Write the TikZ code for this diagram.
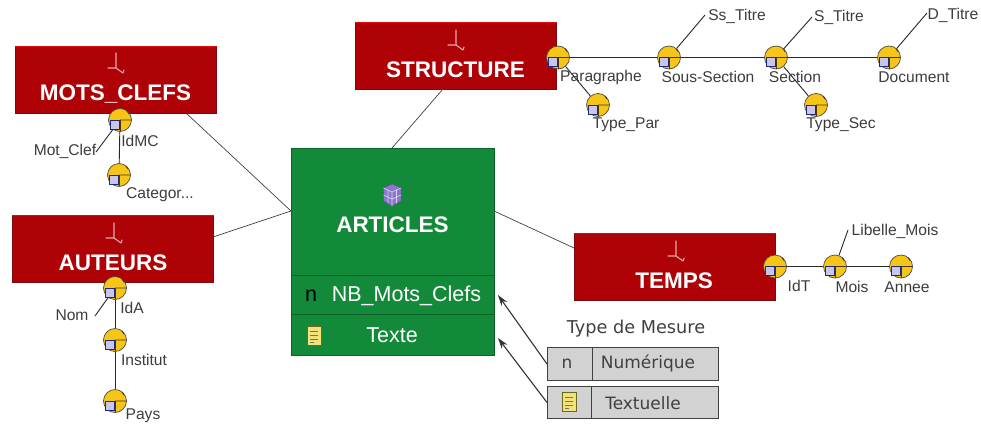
\documentclass[tikz,border=0pt]{standalone}
\usepackage{fontspec}
\setmainfont{Liberation Sans}
\newfontfamily\legendfont{DejaVu Sans}
\usetikzlibrary{arrows.meta}
\definecolor{dimred}{HTML}{AE0207}
\definecolor{dimedge}{HTML}{7A0A0E}
\definecolor{dimtop}{HTML}{DC0A10}
\definecolor{factgreen}{HTML}{138A3A}
\definecolor{factedge}{HTML}{0B6128}
\definecolor{lvlyellow}{HTML}{F5C518}
\definecolor{lvlsquare}{HTML}{C9C6EC}
\definecolor{lvledge}{HTML}{1E2A78}
\definecolor{lbl}{HTML}{3C3C3C}
\definecolor{legendgrey}{HTML}{D2D2D2}
\definecolor{notefill}{HTML}{F3E27A}
\definecolor{hier}{HTML}{E4A8A8}
\definecolor{cube}{HTML}{8A78CC}
\definecolor{cubeline}{HTML}{D8D2F2}
\pgfdeclarelayer{top}
\pgfsetlayers{main,top}
\tikzset{
  x=1pt,y=-1pt,
  dimbox/.style={draw=dimedge,line width=1pt,fill=dimred,minimum width=201pt,minimum height=67pt,inner sep=0pt,anchor=north west},
  facttitle/.style={text=white,font=\fontsize{22.5}{24}\selectfont\bfseries,inner sep=0pt},
  lvl/.style={circle,draw=black!80!yellow,line width=.7pt,fill=lvlyellow,minimum size=23pt,inner sep=0pt},
  lab/.style={text=lbl,font=\fontsize{15.6}{17}\selectfont,inner sep=0pt},
  link/.style={draw=black!75,line width=.7pt},
  attr/.style={draw=black!85,line width=.9pt},
  meas/.style={text=white,font=\fontsize{21.5}{23}\selectfont,inner sep=0pt},
  legbox/.style={draw=black!75,line width=1pt,fill=legendgrey},
  legtxt/.style={font=\legendfont\fontsize{17}{19}\selectfont,text=black!75,inner sep=0pt},
  arr/.style={draw=black!80,line width=1.1pt,-{Stealth[length=11pt,width=7pt]}},
}
\newcommand{\lvlicon}[3]{% name, x, y
  \begin{pgfonlayer}{top}
  \node[lvl] (#1) at (#2,#3) {};
  \draw[black!60!brown,line width=.9pt] (#2,#3) -- (#2+11,#3) (#2+7,#3-9) -- (#2+9,#3-6);
  \draw[black!60!brown,line width=.9pt] (#2,#3) -- (#2,#3+11);
  \draw[draw=lvledge,line width=1pt,fill=lvlsquare] (#2-10,#3) rectangle (#2-1,#3+9);
  \end{pgfonlayer}
}
\newcommand{\hiericon}[3]{% x, y, colour
  \draw[#3,line width=1.1pt,line cap=round,line join=round] (#1,#2-9) -- (#1,#2+6) -- (#1-8,#2+6)
    (#1,#2+6) -- (#1+7,#2+11) -- (#1+8,#2+8);
}
\newcommand{\noteicon}[2]{% x, y
  \draw[draw=olive!70!black,line width=.6pt,fill=notefill] (#1-7,#2-9.5) rectangle (#1+7,#2+9.5);
  \draw[black!55,line width=.8pt] (#1-4,#2-5) -- (#1+4,#2-5) (#1-4,#2-1) -- (#1+4,#2-1) (#1-4,#2+3) -- (#1+4,#2+3) (#1-4,#2+6) -- (#1,#2+6);
}
\begin{document}
\begin{tikzpicture}
\useasboundingbox (0,0) rectangle (981,423);
\node[draw=factedge,line width=.8pt,fill=factgreen,minimum width=203pt,minimum height=207pt,inner sep=0pt,anchor=north west] (articles) at (291,148) {};
\node[dimbox] (mots) at (15,46) {};
\node[dimbox] (auteurs) at (12,215) {};
\node[dimbox] (structure) at (355,22) {};
\node[dimbox] (temps) at (574,233) {};
\draw[dimtop,line width=1pt] (mots.north west) -- (mots.north east) (auteurs.north west) -- (auteurs.north east) (structure.north west) -- (structure.north east) (temps.north west) -- (temps.north east);
\coordinate (artL) at (291,211);
\coordinate (artR) at (494,211);
\coordinate (artT) at (392,148);
\coordinate (motsB) at (186,113);
\coordinate (autR) at (213,237);
\coordinate (strB) at (443,89);
\coordinate (tmpL) at (574,248);
\draw[link] (motsB) -- (artL);
\draw[link] (autR) -- (artL);
\draw[link] (strB) -- (artT);
\draw[link] (artR) -- (tmpL);
% captions
\node[facttitle] (tmots) at (115.5,94) {MOTS\_CLEFS};
\node[facttitle] (taut) at (113,263) {AUTEURS};
\node[facttitle] (tstr) at (455.5,70) {STRUCTURE};
\node[facttitle] (ttmp) at (674,281) {TEMPS};
\node[facttitle] (tart) at (392.5,225) {ARTICLES};
\hiericon{116}{62}{hier}
\hiericon{114}{232}{hier}
\hiericon{456}{39}{hier}
\hiericon{676}{250}{hier}
% fact: dividers, measures, cube
\draw[factedge,line width=1pt] (291,275) -- (494,275) (291,314) -- (494,314);
\node[meas,text=black] (mn) at (311,296) {n};
\node[meas] (m1) at (406.5,296) {NB\_Mots\_Clefs};
\node[meas] (m2) at (392,335) {Texte};
\noteicon{314}{336}
\draw[draw=cube!70!black,line width=.5pt,fill=cube] (383.5,188) -- (392,184) -- (401,188) -- (401,201) -- (392,206) -- (383.5,201) -- cycle;
\draw[cubeline,line width=.6pt] (383.5,188) -- (392,192) -- (401,188) (392,192) -- (392,206) (383.5,195) -- (392,199) -- (401,195) (388,190) -- (388,203) (396.5,190) -- (396.5,203);
% levels
\coordinate (cMotClef) at (96,152);
\coordinate (cNom) at (95,316);
\coordinate (cSsT) at (705,15);
\coordinate (cST) at (812,17);
\coordinate (cDT) at (927,13);
\coordinate (cLib) at (848,230);
\lvlicon{idmc}{120}{120}
\lvlicon{cat}{119}{175}
\lvlicon{ida}{115}{288}
\lvlicon{inst}{115}{340}
\lvlicon{pays}{115}{401}
\lvlicon{para}{558}{57.5}
\lvlicon{typar}{598}{105}
\lvlicon{ssec}{669}{57.5}
\lvlicon{sec}{776}{57.5}
\lvlicon{doc}{889}{57.5}
\lvlicon{tysec}{816}{105}
\lvlicon{idt}{775}{266.5}
\lvlicon{mois}{835}{266.5}
\lvlicon{annee}{901}{266.5}
\draw[attr] (idmc) -- (cat);
\draw[attr] (idmc) -- (cMotClef);
\draw[attr] (ida) -- (inst);
\draw[attr] (inst) -- (pays);
\draw[attr] (ida) -- (cNom);
\draw[attr] (para) -- (ssec);
\draw[attr] (ssec) -- (sec);
\draw[attr] (sec) -- (doc);
\draw[attr] (para) -- (typar);
\draw[attr] (sec) -- (tysec);
\draw[attr] (ssec) -- (cSsT);
\draw[attr] (sec) -- (cST);
\draw[attr] (doc) -- (cDT);
\draw[attr] (idt) -- (mois);
\draw[attr] (mois) -- (annee);
\draw[attr] (mois) -- (cLib);
% level labels
\node[lab] (l1) at (140,141) {IdMC};
\node[lab] (l2) at (65,151) {Mot\_Clef};
\node[lab] (l3) at (160,195) {Categor...};
\node[lab] (l4) at (132,308) {IdA};
\node[lab] (l5) at (72,315) {Nom};
\node[lab] (l6) at (144,360) {Institut};
\node[lab] (l7) at (143,416) {Pays};
\node[lab] (l8) at (601,77) {Paragraphe};
\node[lab] (l9) at (626,125) {Type\_Par};
\node[lab] (l10) at (708,77) {Sous-Section};
\node[lab] (l11) at (795,77) {Section};
\node[lab] (l12) at (914,77) {Document};
\node[lab] (l13) at (841,125) {Type\_Sec};
\node[lab] (l14) at (737,16) {Ss\_Titre};
\node[lab] (l15) at (839,17) {S\_Titre};
\node[lab] (l16) at (953,15) {D\_Titre};
\node[lab] (l17) at (799,286) {IdT};
\node[lab] (l18) at (852,287) {Mois};
\node[lab] (l19) at (907,287) {Annee};
\node[lab] (l20) at (895,231) {Libelle\_Mois};
% legend
\node[legtxt,font=\legendfont\fontsize{17.7}{19}\selectfont] (legt) at (636,329) {Type de Mesure};
\node[legbox,minimum width=171pt,minimum height=33pt,inner sep=0pt,anchor=north west] (leg1) at (547,347) {};
\node[legbox,minimum width=171pt,minimum height=32pt,inner sep=0pt,anchor=north west] (leg2) at (547,386) {};
\draw[black!75,line width=1pt] (592,347) -- (592,380) (591,386) -- (591,418);
\node[legtxt] (legn) at (567,364) {n};
\node[legtxt] (legnum) at (648,363) {Numérique};
\node[legtxt] (legtex) at (643,403) {Textuelle};
\noteicon{569}{402}
\coordinate (arr1) at (498,295);
\coordinate (arr2) at (498,338);
\draw[arr] (leg1.west) -- (arr1);
\draw[arr] (leg2.west) -- (arr2);
\end{tikzpicture}
\end{document}
